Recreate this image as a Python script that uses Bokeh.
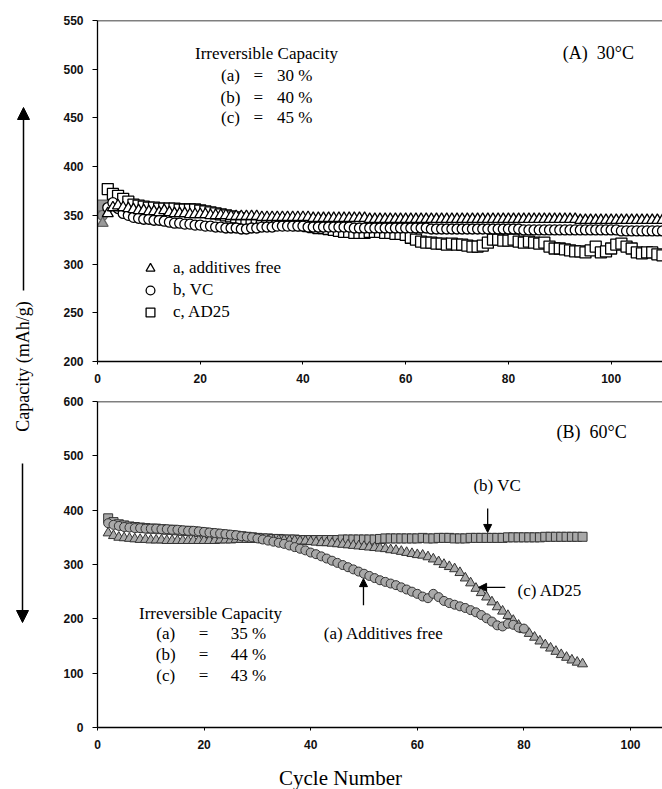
import numpy as np
from bokeh.plotting import figure
from bokeh.models import (Range1d, FixedTicker, Span, Label, Arrow, NormalHead,
                          Legend, LegendItem, ColumnDataSource)
from bokeh.layouts import row, column
from bokeh.embed import file_html
from bokeh.resources import INLINE

# ---------------- data ----------------
# Panel A (30 oC): cycles 1..110
top_cycles = list(range(1, 111))
top_a = [342,
         352, 358, 360, 358, 357, 356, 355, 355, 354,
         354, 353, 355, 353, 352, 352, 352, 351, 351, 351,
         351, 350, 350, 350, 350, 349, 349, 349, 349, 349,
         349, 348, 348, 348, 348, 348, 348, 348, 348, 348,
         348, 347, 347, 347, 347, 347, 347, 347, 347, 347,
         347, 347, 346, 346, 346, 346, 346, 346, 346, 346,
         346, 346, 346, 346, 346, 346, 346, 346, 346, 346,
         346, 346, 346, 346, 346, 346, 346, 346, 346, 346,
         346, 346, 346, 346, 346, 346, 346, 346, 346, 346,
         346, 346, 346, 345, 345, 345, 345, 345, 345, 345,
         345, 345, 345, 345, 345, 345, 345, 345, 345, 345]
top_b = [350,
         358, 363, 357, 352, 350, 348, 347, 346, 346,
         345, 345, 344, 343, 342, 342, 341, 341, 340, 340,
         339, 339, 338, 338, 337, 337, 337, 336, 336, 337,
         337, 338, 338, 338, 339, 339, 339, 339, 339, 339,
         338, 338, 338, 338, 338, 338, 338, 338, 338, 337,
         337, 337, 337, 337, 337, 337, 337, 337, 337, 337,
         337, 337, 337, 337, 336, 336, 336, 336, 336, 336,
         336, 336, 336, 336, 336, 336, 336, 336, 336, 336,
         336, 336, 335, 335, 335, 335, 335, 335, 335, 335,
         335, 335, 335, 335, 335, 335, 335, 335, 335, 335,
         335, 334, 334, 334, 334, 334, 334, 334, 334, 334]
top_c = [360,
         377, 372, 370, 367, 364, 361, 360, 359, 358,
         358, 357, 357, 357, 357, 356, 356, 356, 356, 355,
         354, 353, 352, 351, 350, 349, 348, 347, 346, 345,
         345, 344, 344, 343, 343, 342, 342, 341, 340, 340,
         339, 338, 337, 337, 336, 335, 334, 333, 333, 332,
         332, 332, 333, 333, 333, 332, 332, 331, 331, 330,
         327, 325, 323, 322, 322, 321, 321, 320, 321, 320,
         320, 319, 318, 318, 319, 322, 325, 325, 324, 324,
         325, 323, 322, 323, 322, 321, 322, 318, 316, 316,
         315, 314, 313, 313, 312, 314, 318, 312, 313, 316,
         320, 321, 318, 316, 312, 311, 312, 312, 310, 309]

# Panel B (60 oC)
sq_cycles = list(range(2, 92))
bot_sq = [385, 378, 374, 372, 370, 369, 368, 367, 366,
          366, 365, 364, 364, 363, 362, 362, 361, 360, 359,
          358, 357, 356, 355, 354, 353, 352, 351, 350, 349,
          348, 348, 347, 347, 346, 346, 346, 345, 345, 345,
          345, 345, 345, 345, 345, 346, 346, 346, 346, 346,
          346, 346, 347, 348, 348, 348, 348, 348, 348, 348,
          349, 348, 348, 349, 349, 349, 348, 348, 348, 349,
          349, 349, 349, 349, 349, 349, 350, 350, 350, 350,
          350, 350, 350, 351, 351, 351, 351, 351, 351, 351, 351]
ci_cycles = list(range(2, 81))
bot_ci = [376, 373, 371, 369, 368, 367, 367, 366, 366,
          366, 365, 365, 364, 364, 363, 362, 362, 361, 360,
          359, 358, 357, 356, 355, 354, 352, 351, 350, 348,
          346, 344, 342, 340, 338, 335, 332, 329, 326, 322,
          319, 315, 311, 307, 303, 299, 295, 291, 287, 283,
          279, 275, 271, 268, 265, 262, 258, 254, 250, 246,
          241, 238, 246, 240, 233, 229, 226, 223, 220, 216,
          212, 207, 201, 195, 188, 186, 191, 189, 184, 182]
tr_cycles = list(range(2, 92))
bot_tr = [358, 353, 350, 349, 348, 347, 346, 346, 345,
          345, 345, 344, 344, 344, 344, 344, 344, 344, 344,
          344, 344, 345, 345, 345, 346, 346, 346, 346, 346,
          346, 345, 345, 345, 345, 344, 344, 343, 343, 342,
          341, 340, 340, 339, 338, 337, 336, 335, 334, 333,
          332, 331, 330, 329, 327, 326, 324, 322, 320, 318,
          317, 314, 310, 305, 300, 296, 292, 285, 275, 266,
          256, 248, 240, 231, 222, 214, 206, 197, 188, 180,
          173, 166, 159, 152, 146, 140, 134, 129, 124, 120, 117]

top_yticks = [200, 250, 300, 350, 400, 450, 500, 550]
bot_yticks = [0, 100, 200, 300, 400, 500, 600]
xticks = [0, 20, 40, 60, 80, 100]

SERIF = "Liberation Serif"
SANS = "Liberation Sans"
NB = "\u00a0"


def style(p, yticks, xstand):
    p.xaxis.ticker = FixedTicker(ticks=xticks)
    p.yaxis.ticker = FixedTicker(ticks=yticks)
    for ax in (p.xaxis[0], p.yaxis[0]):
        ax.axis_line_color = "black"
        ax.axis_line_width = 1.3
        ax.major_tick_line_color = "black"
        ax.major_tick_line_width = 1
        ax.minor_tick_line_color = None
        ax.major_label_text_font = SANS
        ax.major_label_text_font_size = "12px"
        ax.major_label_text_font_style = "bold"
        ax.major_label_text_color = "#111111"
        ax.major_tick_in = 0
    p.yaxis.major_tick_out = 5
    p.yaxis.major_label_standoff = 9
    p.xaxis.major_tick_out = 3
    p.xaxis.major_label_standoff = xstand
    p.grid.visible = False
    p.outline_line_color = None
    p.background_fill_color = "white"
    p.border_fill_color = "white"


def lab(p, x, y, text, size="17px", align="center", baseline="middle"):
    p.add_layout(Label(x=x, y=y, text=text, text_font=SERIF, text_font_size=size,
                       text_align=align, text_baseline=baseline, text_color="black"))


# ---------------- panel A ----------------
pA = figure(width=617, height=390, x_range=Range1d(0, 110), y_range=Range1d(200, 550),
            min_border_left=52, min_border_right=0, min_border_top=20, min_border_bottom=29,
            output_backend="svg", toolbar_location=None)
style(pA, top_yticks, 9)
pA.add_layout(Span(location=550, dimension="width", line_color="black", line_width=1.3))

n = len(top_cycles)
fills = ["#9a9a9a"] + ["white"] * (n - 1)
lines = ["#666666"] + ["black"] * (n - 1)
srcA = ColumnDataSource(dict(x=top_cycles, a=top_a, b=top_b, c=top_c, f=fills, l=lines))
rC = pA.scatter("x", "c", source=srcA, marker="square", size=11, fill_color="f",
                line_color="l", line_width=1.3)
rB = pA.scatter("x", "b", source=srcA, marker="circle", size=10, fill_color="f",
                line_color="l", line_width=1.3)
rA = pA.scatter("x", "a", source=srcA, marker="triangle", size=11, fill_color="f",
                line_color="l", line_width=1.3)

legA = Legend(items=[LegendItem(label="a, additives free", renderers=[rA], index=1),
                     LegendItem(label="b, VC", renderers=[rB], index=1),
                     LegendItem(label="c, AD25", renderers=[rC], index=1)],
              location=(42, 38), glyph_width=22, glyph_height=22, spacing=0,
              label_standoff=12, padding=0, margin=0, border_line_color=None,
              background_fill_alpha=0, label_text_font=SERIF, label_text_font_size="17px",
              label_text_color="black", label_height=22)
pA.add_layout(legA)

lab(pA, 32.9, 516, "Irreversible Capacity")
for yv, nm, pc in [(493.5, "(a)", "30 %"), (471, "(b)", "40 %"), (450.5, "(c)", "45 %")]:
    lab(pA, 25.9, yv, nm)
    lab(pA, 31.3, yv, "=")
    lab(pA, 38.4, yv, pc)
lab(pA, 97.5, 517, "(A)" + NB + NB + "30°C", size="18px")

# ---------------- panel B ----------------
pB = figure(width=617, height=365, x_range=Range1d(0, 106), y_range=Range1d(0, 600),
            min_border_left=52, min_border_right=0, min_border_top=11, min_border_bottom=28,
            output_backend="svg", toolbar_location=None)
style(pB, bot_yticks, 9)
pB.add_layout(Span(location=600, dimension="width", line_color="black", line_width=1.3))

GF, GL = "#a9a9a9", "#333333"
pB.scatter(sq_cycles, bot_sq, marker="square", size=9, fill_color=GF, line_color=GL, line_width=1)
pB.scatter(tr_cycles, bot_tr, marker="triangle", size=10, fill_color=GF, line_color=GL, line_width=1)
pB.scatter(ci_cycles, bot_ci, marker="circle", size=9, fill_color=GF, line_color=GL, line_width=1)

lab(pB, 92.7, 543, "(B)" + NB + NB + "60°C", size="18px")
lab(pB, 75.0, 445, "(b) VC")
lab(pB, 78.8, 252, "(c) AD25", align="left")
lab(pB, 53.7, 173, "(a) Additives free")
lab(pB, 21.2, 210, "Irreversible Capacity")
for yv, nm, pc in [(173, "(a)", "35 %"), (134.3, "(b)", "44 %"), (95.7, "(c)", "43 %")]:
    lab(pB, 12.8, yv, nm)
    lab(pB, 19.9, yv, "=")
    lab(pB, 28.3, yv, pc)

for xs, ys, xe, ye in [(73.2, 403, 73.2, 359), (76.5, 258, 71.5, 258), (49.9, 225, 49.9, 274)]:
    pB.add_layout(Arrow(end=NormalHead(size=8, fill_color="black", line_color="black"),
                        x_start=xs, y_start=ys, x_end=xe, y_end=ye,
                        line_color="black", line_width=1.3))

# ---------------- left strip with y title ----------------
pS = figure(width=45, height=755, x_range=Range1d(0, 45), y_range=Range1d(755, 0),
            x_axis_location=None, y_axis_location=None, min_border=0,
            output_backend="svg", toolbar_location=None)
pS.grid.visible = False
pS.outline_line_color = None
pS.add_layout(Label(x=22, y=366, text="Capacity (mAh/g)", angle=np.pi / 2,
                    text_align="center", text_baseline="middle", text_font=SERIF,
                    text_font_size="18px", text_color="black"))
pS.add_layout(Arrow(end=NormalHead(size=12, fill_color="black", line_color="black"),
                    x_start=23, y_start=290, x_end=23, y_end=107, line_width=1.5))
pS.add_layout(Arrow(end=NormalHead(size=12, fill_color="black", line_color="black"),
                    x_start=22, y_start=463, x_end=22, y_end=622, line_width=1.5))

# ---------------- bottom strip with x title ----------------
pC = figure(width=662, height=34, x_range=Range1d(0, 662), y_range=Range1d(34, 0),
            x_axis_location=None, y_axis_location=None, min_border=0,
            output_backend="svg", toolbar_location=None)
pC.grid.visible = False
pC.outline_line_color = None
pC.add_layout(Label(x=340, y=22, text="Cycle Number", text_align="center",
                    text_baseline="middle", text_font=SERIF, text_font_size="21px",
                    text_color="black"))

layout = column(row(pS, column(pA, pB, spacing=0), spacing=0), pC, spacing=0)
open("out.html", "w").write(file_html(layout, INLINE))
